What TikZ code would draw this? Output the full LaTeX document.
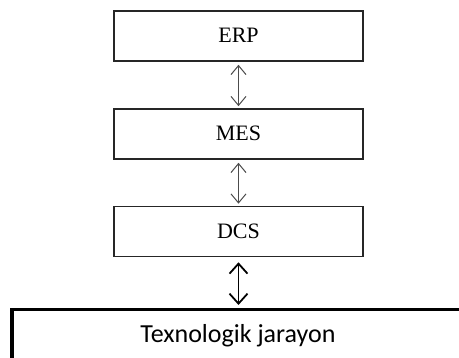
\documentclass[tikz,border=0pt]{standalone}
\usepackage{fontspec}
\setmainfont{Liberation Serif}
\newfontfamily\procfont{Carlito}
\usetikzlibrary{arrows.meta}
\begin{document}
\begin{tikzpicture}[x=1pt,y=-1pt,
  layer/.style={draw=black!85, line width=1.6pt, minimum width=249pt, minimum height=50pt,
    inner sep=0pt, text height=14pt, text depth=0pt, font=\fontsize{22}{22}\selectfont},
  proc/.style={draw=black, line width=3.5pt, minimum width=470pt, minimum height=59pt,
    inner sep=0pt},
  proctext/.style={inner sep=0pt, anchor=base, font=\procfont\fontsize{26}{26}\selectfont},
  thinlink/.style={draw=black!70, line width=1pt,
    {Straight Barb[length=9pt,width=15pt]}-{Straight Barb[length=9pt,width=15pt]},
    shorten <=3pt, shorten >=2pt},
  thicklink/.style={draw=black, line width=1.8pt,
    {Straight Barb[length=10pt,width=18pt]}-{Straight Barb[length=10pt,width=18pt]},
    shorten <=5pt, shorten >=3pt}]
\useasboundingbox (0,0) rectangle (459,358);
\clip (0,0) rectangle (459,358);
\node[layer] (erp) at (238.5,36) {ERP};
\node[layer] (mes) at (238.5,134) {MES};
\node[layer] (dcs) at (238.5,231.5) {DCS};
\node[proc, anchor=north west] (tex) at (10,308) {};
\node[proctext] (texlabel) at (238,343) {Texnologik jarayon};
\draw[thinlink] (erp.south) -- (mes.north);
\draw[thinlink] (mes.south) -- (dcs.north);
\draw[thicklink] (dcs.south) -- (dcs.south |- tex.north);
\end{tikzpicture}
\end{document}
